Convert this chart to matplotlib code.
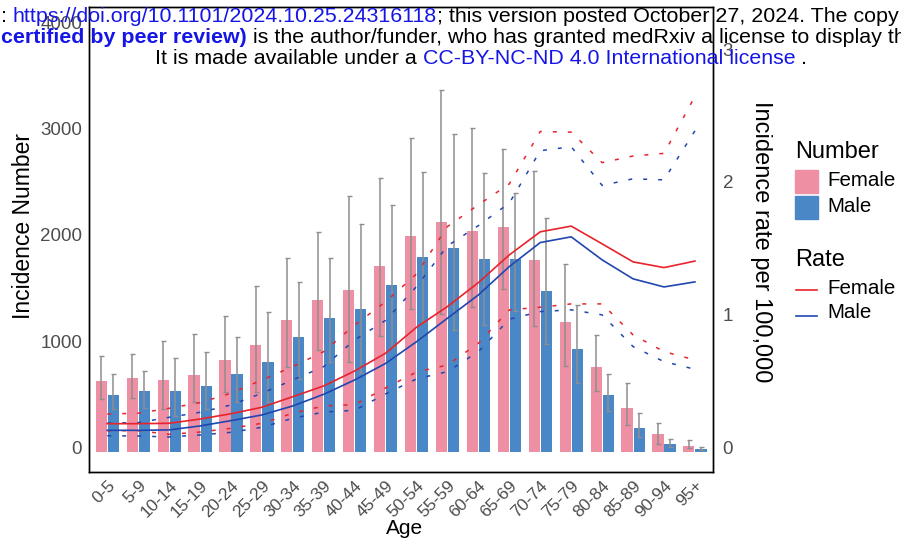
import matplotlib
matplotlib.use('Agg')
import numpy as np
import matplotlib.pyplot as plt
import matplotlib.transforms as mtransforms
from matplotlib import font_manager
from matplotlib.patches import Rectangle
from matplotlib.lines import Line2D

plt.rcParams['font.family'] = ['Liberation Sans', 'DejaVu Sans']

# age groups
ages = ['0-5', '5-9', '10-14', '15-19', '20-24', '25-29', '30-34', '35-39',
        '40-44', '45-49', '50-54', '55-59', '60-64', '65-69', '70-74',
        '75-79', '80-84', '85-89', '90-94', '95+']

# incidence number (bars) with lower / upper bounds
female_n = [665, 693, 675, 722, 863, 1005, 1241, 1429, 1524, 1750,
            2033, 2165, 2080, 2118, 1807, 1222, 797, 410, 165, 52]
female_lo = [498, 505, 404, 470, 561, 558, 800, 958, 844, 1090,
             1347, 1294, 1366, 1530, 1184, 807, 571, 253, 71, 33]
female_hi = [901, 920, 1045, 1111, 1281, 1564, 1828, 2074, 2413, 2577,
             2960, 3410, 3052, 2857, 2646, 1766, 1096, 643, 272, 108]
male_n = [533, 571, 571, 618, 731, 844, 1080, 1259, 1344, 1571,
          1835, 1920, 1816, 1816, 1514, 967, 533, 222, 71, 24]
male_lo = [398, 413, 335, 398, 470, 470, 687, 844, 743, 989,
           1219, 1143, 1193, 1325, 1011, 643, 382, 140, 42, 11]
male_hi = [728, 762, 885, 939, 1080, 1316, 1596, 1828, 2149, 2325,
           2640, 2995, 2630, 2442, 2206, 1385, 734, 360, 121, 40]

# incidence rate per 100,000 (lines) with lower / upper bounds
female_rate = [0.210, 0.210, 0.213, 0.245, 0.285, 0.334, 0.414, 0.495, 0.608, 0.742,
               0.938, 1.094, 1.275, 1.484, 1.658, 1.701, 1.567, 1.431, 1.388, 1.437]
female_rate_lo = [0.157, 0.157, 0.130, 0.147, 0.175, 0.213, 0.289, 0.344, 0.354, 0.480,
                  0.600, 0.653, 0.817, 1.069, 1.089, 1.114, 1.114, 0.880, 0.754, 0.691]
female_rate_hi = [0.283, 0.289, 0.326, 0.369, 0.440, 0.540, 0.641, 0.754, 0.955, 1.130,
                  1.341, 1.698, 1.862, 2.020, 2.415, 2.410, 2.180, 2.230, 2.250, 2.680]
male_rate = [0.160, 0.160, 0.163, 0.193, 0.233, 0.276, 0.344, 0.432, 0.540, 0.665,
             0.829, 1.006, 1.182, 1.396, 1.577, 1.620, 1.446, 1.303, 1.242, 1.280]
male_rate_lo = [0.119, 0.117, 0.110, 0.125, 0.145, 0.183, 0.251, 0.298, 0.311, 0.435,
                0.548, 0.603, 0.754, 0.998, 1.056, 1.069, 1.031, 0.792, 0.678, 0.621]
male_rate_hi = [0.215, 0.218, 0.258, 0.296, 0.351, 0.440, 0.540, 0.641, 0.842, 0.990,
                1.245, 1.552, 1.705, 1.875, 2.270, 2.300, 2.008, 2.058, 2.050, 2.420]

PINK = '#EE8FA4'
BLUE = '#4A87C6'
RED = '#E8232B'
NAVY = '#2046B0'
GREY = '#8E8E8E'
TICK = '#4D4D4D'

W, H = 901, 544
RATE_SCALE = 1250          # secondary axis: rate = number / 1250
Y0, Y1 = -196, 4193

fig = plt.figure(figsize=(W / 100, H / 100), dpi=100)
ax = fig.add_axes([88.7 / W, 1 - 472.3 / H, (713.5 - 88.7) / W, (472.3 - 7) / H])

x = np.arange(len(ages))
off, bw = 0.195, 0.36

def err(v, lo, hi):
    v, lo, hi = np.array(v), np.array(lo), np.array(hi)
    return [v - lo, hi - v]

ax.bar(x - off, female_n, width=bw, color=PINK, zorder=2)
ax.bar(x + off, male_n, width=bw, color=BLUE, zorder=2)
ax.errorbar(x - off, female_n, yerr=err(female_n, female_lo, female_hi), fmt='none',
            ecolor=GREY, elinewidth=1.1, capsize=1.8, capthick=1.0, zorder=3)
ax.errorbar(x + off, male_n, yerr=err(male_n, male_lo, male_hi), fmt='none',
            ecolor=GREY, elinewidth=1.1, capsize=1.8, capthick=1.0, zorder=3)

ax.set_xlim(-0.6, len(ages) - 0.4)
ax.set_ylim(Y0, Y1)
ax.set_xticks(x)
ax.set_xticklabels(ages, rotation=45, ha='right', va='top', rotation_mode='anchor')
ax.set_yticks([0, 1000, 2000, 3000, 4000])

ax2 = ax.twinx()
ax2.set_ylim(Y0 / RATE_SCALE, Y1 / RATE_SCALE)
ax2.set_yticks([0, 1, 2, 3])
dash = (2.6, 7.2)
ax2.plot(x, female_rate_hi, color=RED, lw=1.1, dashes=dash)
ax2.plot(x, female_rate_lo, color=RED, lw=1.1, dashes=dash)
ax2.plot(x, male_rate_hi, color=NAVY, lw=1.1, dashes=dash)
ax2.plot(x, male_rate_lo, color=NAVY, lw=1.1, dashes=dash)
ax2.plot(x, female_rate, color=RED, lw=1.2)
ax2.plot(x, male_rate, color=NAVY, lw=1.2)

for a in (ax, ax2):
    for s in a.spines.values():
        s.set_color('black')
        s.set_linewidth(1.0)
    a.tick_params(length=0, labelsize=13.5, labelcolor=TICK)
ax.tick_params(axis='y', pad=4.8)
ax.tick_params(axis='x', pad=4, labelsize=12.5)
ax2.tick_params(axis='y', pad=6.5)

# ggplot-like label placement (glyphs sit slightly above the value)
shift = mtransforms.ScaledTranslation(0, 4.5 / 100, fig.dpi_scale_trans)
for lab in ax.get_yticklabels() + ax2.get_yticklabels():
    lab.set_transform(lab.get_transform() + shift)

# axis titles
fig.text(24 / W, 1 - 226 / H, 'Incidence Number', rotation=90, fontsize=16.5,
         ha='center', va='center')
fig.text(761 / W, 1 - 241.5 / H, 'Incidence rate per 100,000', rotation=270, fontsize=17,
         ha='center', va='center')
fig.text(405 / W, 1 - 528 / H, 'Age', fontsize=15, ha='center', va='center')

# legend
def fpx(px, py):
    return px / W, 1 - py / H

fig.text(*fpx(795, 152), 'Number', fontsize=17, va='center')
fig.patches.append(Rectangle(fpx(795, 193.3), 23 / W, 23.3 / H, color=PINK,
                             transform=fig.transFigure, figure=fig))
fig.patches.append(Rectangle(fpx(795, 219.3), 23 / W, 23.3 / H, color=BLUE,
                             transform=fig.transFigure, figure=fig))
fig.text(*fpx(827, 181), 'Female', fontsize=14.8, va='center')
fig.text(*fpx(827, 206), 'Male', fontsize=14.8, va='center')
fig.text(*fpx(795, 260), 'Rate', fontsize=17, va='center')
fig.lines.append(Line2D([795.7 / W, 816.7 / W], [1 - 290 / H] * 2, color=RED, lw=1.2,
                        transform=fig.transFigure, figure=fig))
fig.lines.append(Line2D([795.7 / W, 816.7 / W], [1 - 315.7 / H] * 2, color=NAVY, lw=1.2,
                        transform=fig.transFigure, figure=fig))
fig.text(*fpx(827, 289), 'Female', fontsize=14.8, va='center')
fig.text(*fpx(827, 313), 'Male', fontsize=14.8, va='center')

# medRxiv watermark header
names = {f.name for f in font_manager.fontManager.ttflist}
hdr_family = 'Liberation Sans Narrow' if 'Liberation Sans Narrow' in names else 'Liberation Sans'
HDR = dict(fontsize=16, family=hdr_family)
LINK = '#1515E6'
fig.canvas.draw()
rend = fig.canvas.get_renderer()

def adv(s, **kw):
    a = fig.text(0, 0, s + '|', **kw)
    b = fig.text(0, 0, '|', **kw)
    w = a.get_window_extent(rend).width - b.get_window_extent(rend).width
    a.remove()
    b.remove()
    return w

line1 = [(': ', 'black', 'normal'),
         ('https://doi.org/10.1101/2024.10.25.24316118', LINK, 'normal'),
         ('; this version posted October 27, 2024. The copy', 'black', 'normal')]
line2 = [('certified by peer review) ', LINK, 'bold'),
         ('is the author/funder, who has granted medRxiv a license to display th', 'black', 'normal')]
line3 = [('It is made available under a ', 'black', 'normal'),
         ('CC-BY-NC-ND 4.0 International license ', LINK, 'normal'),
         ('.', 'black', 'normal')]

# size the header so the centred licence line is as wide as in the original
w3 = sum(adv(s, color=c, fontweight=fw, **HDR) for s, c, fw in line3)
HDR['fontsize'] = 16 * 653 / w3

def run(parts, x0, y, center=False):
    widths = [adv(s, color=c, fontweight=fw, **HDR) for s, c, fw in parts]
    if center:
        x0 = x0 - sum(widths) / 2
    for (s, c, fw), w in zip(parts, widths):
        fig.text(x0 / W, 1 - y / H, s, color=c, fontweight=fw, ha='left', va='center',
                 zorder=5, **HDR)
        x0 += w

run(line1, 1, 16)
run(line2, 1, 37.5)
run(line3, 481, 58, center=True)

fig.savefig('out.png', dpi=100)
